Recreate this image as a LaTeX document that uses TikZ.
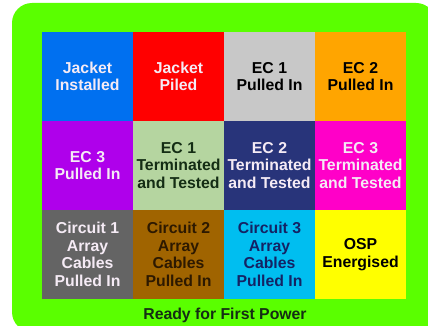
\documentclass[tikz,border=0pt]{standalone}
\usepackage{fontspec}
\setmainfont{Liberation Sans}
\definecolor{bggreen}{RGB}{90,255,0}
\definecolor{cblue}{RGB}{0,112,240}
\definecolor{cred}{RGB}{255,0,0}
\definecolor{cgray}{RGB}{200,200,200}
\definecolor{corange}{RGB}{255,165,0}
\definecolor{cpurple}{RGB}{175,0,235}
\definecolor{clgreen}{RGB}{181,213,160}
\definecolor{cnavy}{RGB}{40,52,122}
\definecolor{cmagenta}{RGB}{255,0,200}
\definecolor{cdgray}{RGB}{100,100,100}
\definecolor{cbrown}{RGB}{160,100,0}
\definecolor{ccyan}{RGB}{0,190,240}
\definecolor{cyellow}{RGB}{255,255,0}
\definecolor{tdgreen}{RGB}{20,45,20}
\definecolor{tnavy}{RGB}{20,35,100}
\definecolor{tbrown}{RGB}{45,25,0}
\definecolor{twhite}{RGB}{245,235,245}
\begin{document}
\begin{tikzpicture}[x=1pt,y=-1pt,
  cell/.style={minimum width=91pt,minimum height=89pt,inner sep=0pt,outer sep=0pt,
    align=center,font=\fontsize{15.8}{17.5}\selectfont\bfseries},
  lbl/.style={inner sep=0pt,font=\fontsize{15.8}{17.5}\selectfont\bfseries}]
\useasboundingbox (0,0) rectangle (428,326);
\fill[white] (0,0) rectangle (428,326);
\fill[bggreen,rounded corners=20pt] (12,3) rectangle (436,332);
% row 1
\node[cell,fill=cblue,text=twhite] (c11) at (87.5,76.5) {Jacket\\Installed};
\node[cell,fill=cred,text=twhite] (c12) at (178.5,76.5) {Jacket\\Piled};
\node[cell,fill=cgray,text=black] (c13) at (269.5,76.5) {EC 1\\Pulled In};
\node[cell,fill=corange,text=black] (c14) at (360.5,76.5) {EC 2\\Pulled In};
% row 2
\node[cell,fill=cpurple,text=twhite] (c21) at (87.5,165.5) {EC 3\\Pulled In};
\node[cell,fill=clgreen,text=tdgreen] (c22) at (178.5,165.5) {EC 1\\Terminated\\and Tested};
\node[cell,fill=cnavy,text=twhite] (c23) at (269.5,165.5) {EC 2\\Terminated\\and Tested};
\node[cell,fill=cmagenta,text=twhite] (c24) at (360.5,165.5) {EC 3\\Terminated\\and Tested};
% row 3
\node[cell,fill=cdgray,text=twhite] (c31) at (87.5,254.5) {Circuit 1\\Array\\Cables\\Pulled In};
\node[cell,fill=cbrown,text=tbrown] (c32) at (178.5,254.5) {Circuit 2\\Array\\Cables\\Pulled In};
\node[cell,fill=ccyan,text=tnavy] (c33) at (269.5,254.5) {Circuit 3\\Array\\Cables\\Pulled In};
\node[cell,fill=cyellow,text=black] (c34) at (360.5,254.5) {OSP\\Energised};
\node[lbl,text=tdgreen] (ready) at (225,315) {Ready for First Power};
\end{tikzpicture}
\end{document}
